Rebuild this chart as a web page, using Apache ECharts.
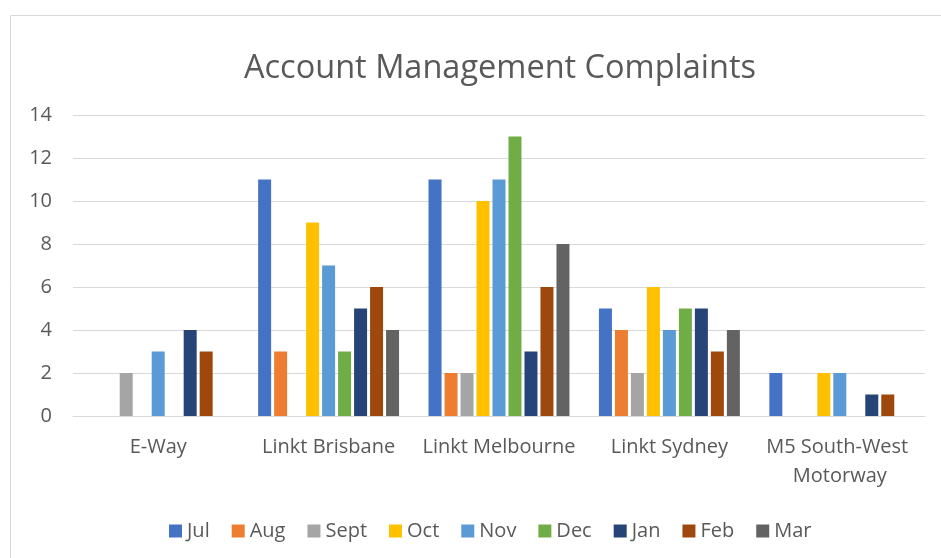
<!DOCTYPE html>
<html>
<head>
<meta charset="utf-8">
<script src="https://cdn.jsdelivr.net/npm/echarts@6/dist/echarts.min.js"></script>
<style>
  html, body { margin: 0; padding: 0; background: #fff; overflow: hidden; }
  #chart { width: 941px; height: 558px; }
</style>
</head>
<body>
<div id="chart"></div>
<script>
const categories = ['E-Way', 'Linkt Brisbane', 'Linkt Melbourne', 'Linkt Sydney', 'M5 South-West Motorway'];
const months = ['Jul', 'Aug', 'Sept', 'Oct', 'Nov', 'Dec', 'Jan', 'Feb', 'Mar'];
const colors = ['#4472C4', '#ED7D31', '#A5A5A5', '#FFC000', '#5B9BD5', '#70AD47', '#264478', '#9E480E', '#636363'];

const jul = [0, 11, 11, 5, 2];
const aug = [0, 3, 2, 4, 0];
const sept = [2, 0, 2, 2, 0];
const oct = [0, 9, 10, 6, 2];
const nov = [3, 7, 11, 4, 2];
const dec = [0, 3, 13, 5, 0];
const jan = [4, 5, 3, 5, 1];
const feb = [3, 6, 6, 3, 1];
const mar = [0, 4, 8, 4, 0];
const seriesValues = [jul, aug, sept, oct, nov, dec, jan, feb, mar];

const chart = echarts.init(document.getElementById('chart'), null, { renderer: 'canvas' });

const font = '"Open Sans", "Noto Sans", sans-serif';

const option = {
  animation: false,
  color: colors,
  textStyle: { fontFamily: font },
  title: {
    text: 'Account Management Complaints',
    left: 239,
    top: 47,
    textStyle: { fontFamily: font, fontSize: 32.5, fontWeight: 'normal', color: '#595959' }
  },
  graphic: [{
    type: 'rect',
    shape: { x: 10.5, y: 15.5, width: 1000, height: 1000 },
    style: { fill: 'none', stroke: '#d9d9d9', lineWidth: 1 },
    silent: true
  }],
  legend: {
    top: 516,
    left: 164,
    itemWidth: 13,
    itemHeight: 13,
    itemGap: 22,
    icon: 'rect',
    textStyle: { fontFamily: font, fontSize: 20, color: '#595959' },
    data: months
  },
  grid: { left: 73, right: 16, top: 115, bottom: 142 },
  xAxis: {
    type: 'category',
    data: categories,
    axisLine: { show: true, lineStyle: { color: '#d9d9d9', width: 1 } },
    axisTick: { show: false },
    axisLabel: {
      fontFamily: font,
      fontSize: 20,
      color: '#595959',
      margin: 17,
      width: 165,
      overflow: 'break',
      lineHeight: 29,
      interval: 0
    }
  },
  yAxis: {
    type: 'value',
    min: 0,
    max: 14,
    interval: 2,
    axisLine: { show: false },
    axisTick: { show: false },
    axisLabel: { fontFamily: font, fontSize: 20, color: '#595959', margin: 21 },
    splitLine: { lineStyle: { color: '#d9d9d9', width: 1 } }
  },
  series: months.map((m, i) => ({
    name: m,
    type: 'bar',
    data: seriesValues[i],
    barWidth: 13,
    barGap: '23%',
    itemStyle: { color: colors[i] }
  }))
};

chart.setOption(option);
</script>
</body>
</html>
